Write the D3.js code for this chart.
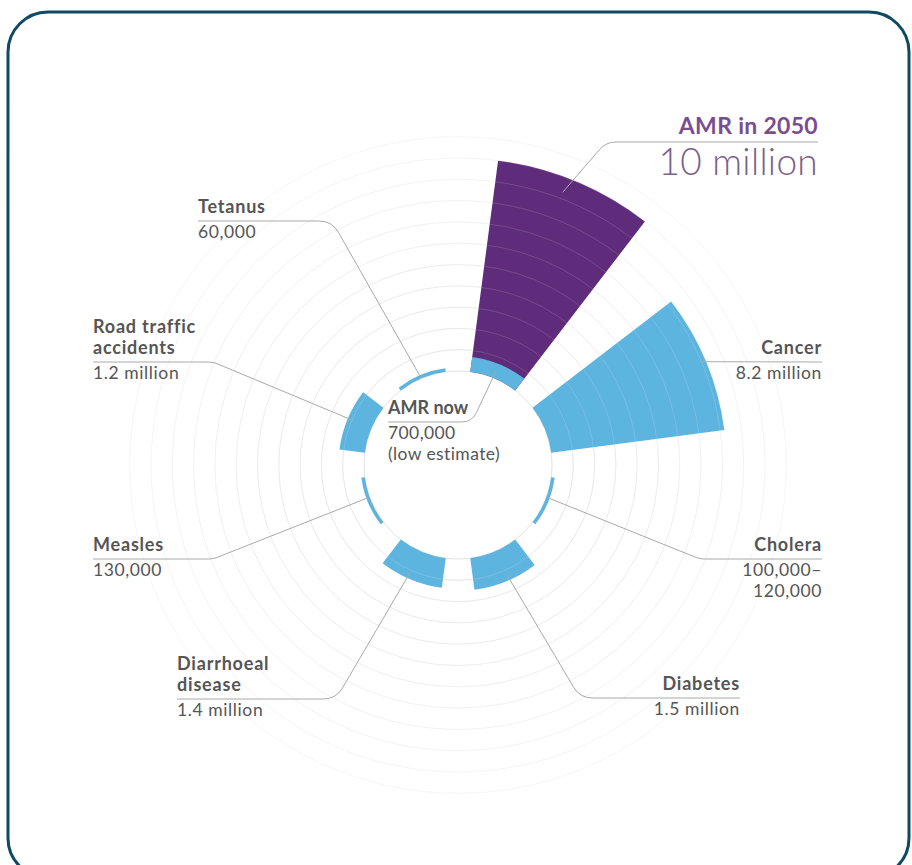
<!DOCTYPE html>
<html>
<head>
<meta charset="utf-8">
<script src="https://cdn.jsdelivr.net/npm/d3@7"></script>
<style>
  body { margin: 0; background: #fff; }
  text { font-family: Lato, "Open Sans", sans-serif; }
</style>
</head>
<body>
<div id="chart"></div>
<script>
const width = 912, height = 865;

// deaths per year, millions
const categories = ["AMR in 2050", "Cancer", "Cholera", "Diabetes", "Diarrhoeal disease", "Measles", "Road traffic accidents", "Tetanus"];
const deaths = [10, 8.2, 0.12, 1.5, 1.4, 0.13, 1.2, 0.06];
const amrNow = 0.7;
const nameLines = [["AMR in 2050"], ["Cancer"], ["Cholera"], ["Diabetes"], ["Diarrhoeal", "disease"], ["Measles"], ["Road traffic", "accidents"], ["Tetanus"]];
const valueLines = [["10 million"], ["8.2 million"], ["100,000–", "120,000"], ["1.5 million"], ["1.4 million"], ["130,000"], ["1.2 million"], ["60,000"]];
const ringTicks = d3.range(0, 12); // one ring per million

// label layout: anchor x, underline y, elbow x, leader target [deg, millions]
const layout = [
  { x: 818, y: 142, side: "right", elbow: 606, target: [21, 9.3] },
  { x: 822, y: 362, side: "right", elbow: null, target: [67, 8.0] },
  { x: 822, y: 559, side: "right", elbow: 700, target: [110, 0.05] },
  { x: 740, y: 698, side: "right", elbow: 580, target: [156, 1.2] },
  { x: 177, y: 699, side: "left", elbow: 336, target: [204, 1.1] },
  { x: 93, y: 559, side: "left", elbow: 213, target: [250, 0.05] },
  { x: 93, y: 362, side: "left", elbow: 213, target: [293, 0.9] },
  { x: 198, y: 221, side: "left", elbow: 332, target: [337, 0.03] }
];

const cx = 458, cy = 465, r0 = 94;

const svg = d3.select("#chart")
  .append("svg")
  .attr("width", width)
  .attr("height", height);

// frame
svg.append("rect")
  .attr("x", 8).attr("y", 12)
  .attr("width", 901).attr("height", 866)
  .attr("rx", 40)
  .attr("fill", "#fff")
  .attr("stroke", "#0f4a62")
  .attr("stroke-width", 3);

const g = svg.append("g").attr("transform", `translate(${cx},${cy})`);

const angle = d3.scaleBand()
  .domain(categories)
  .range([0, 2 * Math.PI])
  .paddingInner(1 / 3)
  .paddingOuter(1 / 6);

const r = d3.scaleLinear()
  .domain([0, 10])
  .range([r0, r0 + 213]);

// rings behind bars, fading outwards
g.append("g")
  .selectAll("circle")
  .data(ringTicks)
  .join("circle")
  .attr("r", d => r(d))
  .attr("fill", "none")
  .attr("stroke", d => d3.interpolateRgb("#e2e2e2", "#f6f6f6")(d / 11))
  .attr("stroke-width", 1);

// leader lines
function pt(t) {
  const a = t[0] * Math.PI / 180, rr = r(t[1]);
  return [cx + rr * Math.sin(a), cy - rr * Math.cos(a)];
}

layout.forEach((l, i) => {
  const [tx, ty] = pt(l.target);
  const p = d3.path();
  p.moveTo(l.x, l.y);
  if (l.elbow !== null) {
    p.arcTo(l.elbow, l.y, tx, ty, 22);
  }
  p.lineTo(tx, ty);
  svg.append("path")
    .attr("d", p.toString())
    .attr("fill", "none")
    .attr("stroke", "#a9a9a9")
    .attr("stroke-width", 1);
});

// AMR now leader
{
  const [tx, ty] = pt([22, 0.3]);
  const p = d3.path();
  p.moveTo(388, 422);
  p.arcTo(472, 422, tx, ty, 16);
  p.lineTo(tx, ty);
  svg.append("path")
    .attr("d", p.toString())
    .attr("fill", "none")
    .attr("stroke", "#a9a9a9")
    .attr("stroke-width", 1);
}

const arc = d3.arc()
  .startAngle(d => angle(d.cat))
  .endAngle(d => angle(d.cat) + angle.bandwidth());

const bars = categories.map((c, i) => ({ cat: c, v: deaths[i] }));

g.append("g")
  .selectAll("path")
  .data(bars)
  .join("path")
  .attr("d", d => arc.innerRadius(r(0)).outerRadius(Math.max(r(d.v), r(0) + 3.5))(d))
  .attr("fill", (d, i) => i === 0 ? "#5e2c7a" : "#5db4df");

// AMR now share at base of the 2050 bar
g.append("path")
  .attr("d", arc.innerRadius(r(0)).outerRadius(r(amrNow))({ cat: categories[0] }))
  .attr("fill", "#5db4df");

// faint rings through the bars
g.append("g")
  .selectAll("circle")
  .data(ringTicks.slice(1))
  .join("circle")
  .attr("r", d => r(d))
  .attr("fill", "none")
  .attr("stroke", "#fff")
  .attr("stroke-opacity", 0.14)
  .attr("stroke-width", 1);

// labels
layout.forEach((l, i) => {
  const anchor = l.side === "right" ? "end" : "start";
  const isAmr = i === 0;
  const names = nameLines[i];
  const lh = 21;
  names.forEach((n, j) => {
    svg.append("text")
      .attr("x", l.x)
      .attr("y", l.y - 8 - (names.length - 1 - j) * lh)
      .attr("text-anchor", anchor)
      .attr("font-size", isAmr ? 23 : 18)
      .attr("letter-spacing", isAmr ? 0.3 : 0.8)
      .attr("font-weight", 700)
      .attr("fill", isAmr ? "#7a4d92" : "#555")
      .text(n);
  });
  valueLines[i].forEach((v, j) => {
    svg.append("text")
      .attr("x", l.x)
      .attr("y", isAmr ? l.y + 33 : l.y + 17 + j * 21)
      .attr("text-anchor", anchor)
      .attr("font-size", isAmr ? 37 : 17.5)
      .attr("letter-spacing", isAmr ? 0.3 : 0.6)
      .attr("font-weight", isAmr ? 300 : 400)
      .attr("fill", isAmr ? "#7c6089" : "#555")
      .text(v);
  });
});

// AMR now label
svg.append("text")
  .attr("x", 388).attr("y", 414)
  .attr("font-size", 18).attr("font-weight", 700)
  .attr("fill", "#555")
  .text("AMR now");
svg.append("text")
  .attr("x", 388).attr("y", 439)
  .attr("font-size", 17.5).attr("letter-spacing", 0.4).attr("fill", "#555")
  .text("700,000");
svg.append("text")
  .attr("x", 388).attr("y", 460)
  .attr("font-size", 17.5).attr("letter-spacing", 0.4).attr("fill", "#555")
  .text("(low estimate)");
</script>
</body>
</html>
